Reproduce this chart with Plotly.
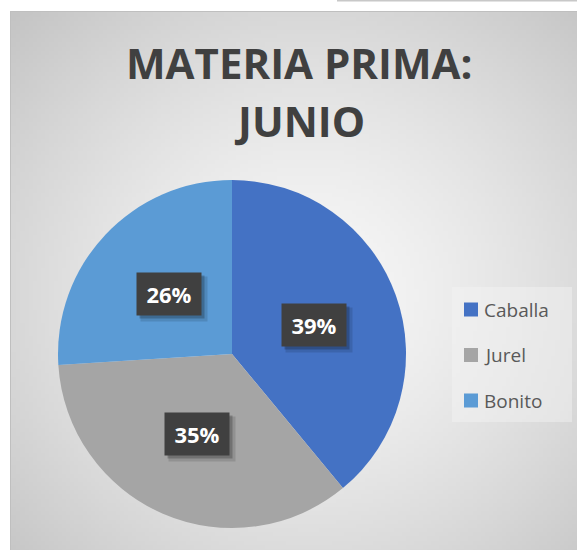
import base64, math, struct, zlib
import numpy as np
import plotly.graph_objects as go

# ---- data ----
title_lines = ["MATERIA PRIMA:", "JUNIO"]
categories = ["Caballa", "Jurel", "Bonito"]
values = [39, 35, 26]
colors = ["#4472C4", "#A5A5A5", "#5B9BD5"]

W, H = 577, 550
# chart-area & pie geometry (pixels)
AX0, AY0 = 10, 11
CX, CY, R = 232, 354, 174


def px(x):
    return x / W


def py(y):
    return 1 - y / H


# ---- radial gradient background as png ----
def make_png(w, h, rgb):
    raw = b"".join(b"\x00" + rgb[i].tobytes() for i in range(h))
    def chunk(t, d):
        c = struct.pack(">I", len(d)) + t + d
        return c + struct.pack(">I", zlib.crc32(t + d) & 0xFFFFFFFF)
    png = b"\x89PNG\r\n\x1a\n"
    png += chunk(b"IHDR", struct.pack(">IIBBBBB", w, h, 8, 2, 0, 0, 0))
    png += chunk(b"IDAT", zlib.compress(raw, 9))
    png += chunk(b"IEND", b"")
    return "data:image/png;base64," + base64.b64encode(png).decode()


gw, gh = 144, 136
xs = np.linspace(-1, 1, gw)[None, :]
ys = np.linspace(-1, 1, gh)[:, None]
r = np.sqrt(xs ** 2 + ys ** 2) / math.sqrt(2)
t = np.clip(r, 0, 1) ** 1.4
val = 248 - t * (248 - 196)
img = np.repeat(val[:, :, None], 3, axis=2).astype(np.uint8)
bg_src = make_png(gw, gh, img)

fig = go.Figure()
fig.add_trace(go.Pie(
    labels=categories, values=values, sort=False, direction="clockwise",
    rotation=0, marker=dict(colors=colors, line=dict(width=0)),
    textinfo="none", hoverinfo="label+percent", showlegend=False,
    domain=dict(x=[px(CX - R), px(CX + R)], y=[py(CY + R), py(CY - R)]),
))

shapes = []
annotations = []

# chart border (left & top visible)
shapes.append(dict(type="line", xref="paper", yref="paper",
                   x0=px(AX0 + 0.5), x1=px(AX0 + 0.5), y0=py(H), y1=py(AY0 + 0.5),
                   line=dict(color="#BFBFBF", width=1), layer="above"))
shapes.append(dict(type="line", xref="paper", yref="paper",
                   x0=px(AX0 + 0.5), x1=px(W), y0=py(AY0 + 0.5), y1=py(AY0 + 0.5),
                   line=dict(color="#BFBFBF", width=1), layer="above"))
# stray line at top right
shapes.append(dict(type="line", xref="paper", yref="paper",
                   x0=px(337), x1=px(W), y0=py(0.5), y1=py(0.5),
                   line=dict(color="#C8C8C8", width=2)))

# data labels
total = sum(values)
cum = 0
for v in values:
    mid = (cum + v / 2) / total * 2 * math.pi
    cum += v
    lx = CX + 0.5 * R * math.sin(mid)
    ly = CY - 0.5 * R * math.cos(mid)
    pct = f"{round(v / total * 100)}%"
    for off, alpha, ww, hh in [(5, 0.12, 66, 44), (3, 0.22, 64, 42)]:
        annotations.append(dict(xref="paper", yref="paper", x=px(lx + off), y=py(ly + off),
                                text=" ", showarrow=False, width=ww, height=hh,
                                bgcolor=f"rgba(0,0,0,{alpha})", borderpad=0,
                                xanchor="center", yanchor="middle"))
    annotations.append(dict(xref="paper", yref="paper", x=px(lx), y=py(ly),
                            text=f"<b>{pct}</b>", showarrow=False, width=64, height=42,
                            bgcolor="#404040", borderpad=0,
                            font=dict(family="Open Sans", size=22, color="white"),
                            xanchor="center", yanchor="middle"))

# legend (manual)
shapes.append(dict(type="rect", xref="paper", yref="paper",
                   x0=px(452), x1=px(572), y0=py(422), y1=py(287),
                   line=dict(width=0), fillcolor="rgba(244,244,244,0.45)", layer="below"))
leg_y0, leg_dy = 309.5, 45.5
for i, (name, col) in enumerate(zip(categories, colors)):
    yc = leg_y0 + i * leg_dy
    shapes.append(dict(type="rect", xref="paper", yref="paper",
                       x0=px(464), x1=px(478), y0=py(yc + 7), y1=py(yc - 7),
                       line=dict(width=0), fillcolor=col))
    annotations.append(dict(xref="paper", yref="paper", x=px(482), y=py(yc),
                            text=name, showarrow=False, xanchor="left", yanchor="middle",
                            font=dict(family="Open Sans", size=19, color="#595959")))

# title
annotations.append(dict(xref="paper", yref="paper", x=px(299), y=py(62),
                        text=f"<b>{title_lines[0]}</b>", showarrow=False,
                        xanchor="center", yanchor="middle",
                        font=dict(family="Open Sans", size=42, color="#404040")))
annotations.append(dict(xref="paper", yref="paper", x=px(299), y=py(121),
                        text=f"<b>{title_lines[1]}</b>", showarrow=False,
                        xanchor="center", yanchor="middle",
                        font=dict(family="Open Sans", size=42, color="#404040")))

fig.update_layout(
    width=W, height=H, margin=dict(l=0, r=0, t=0, b=0),
    paper_bgcolor="white", plot_bgcolor="white",
    shapes=shapes, annotations=annotations,
    images=[dict(source=bg_src, xref="paper", yref="paper",
                 x=px(AX0), y=py(AY0), sizex=(W + 30 - AX0) / W, sizey=(H + 30 - AY0) / H,
                 sizing="stretch", xanchor="left", yanchor="top", layer="below")],
)

fig.write_html("out.html", config={"displayModeBar": False},
               post_script="document.body.style.margin='0';document.body.style.overflow='hidden';")
